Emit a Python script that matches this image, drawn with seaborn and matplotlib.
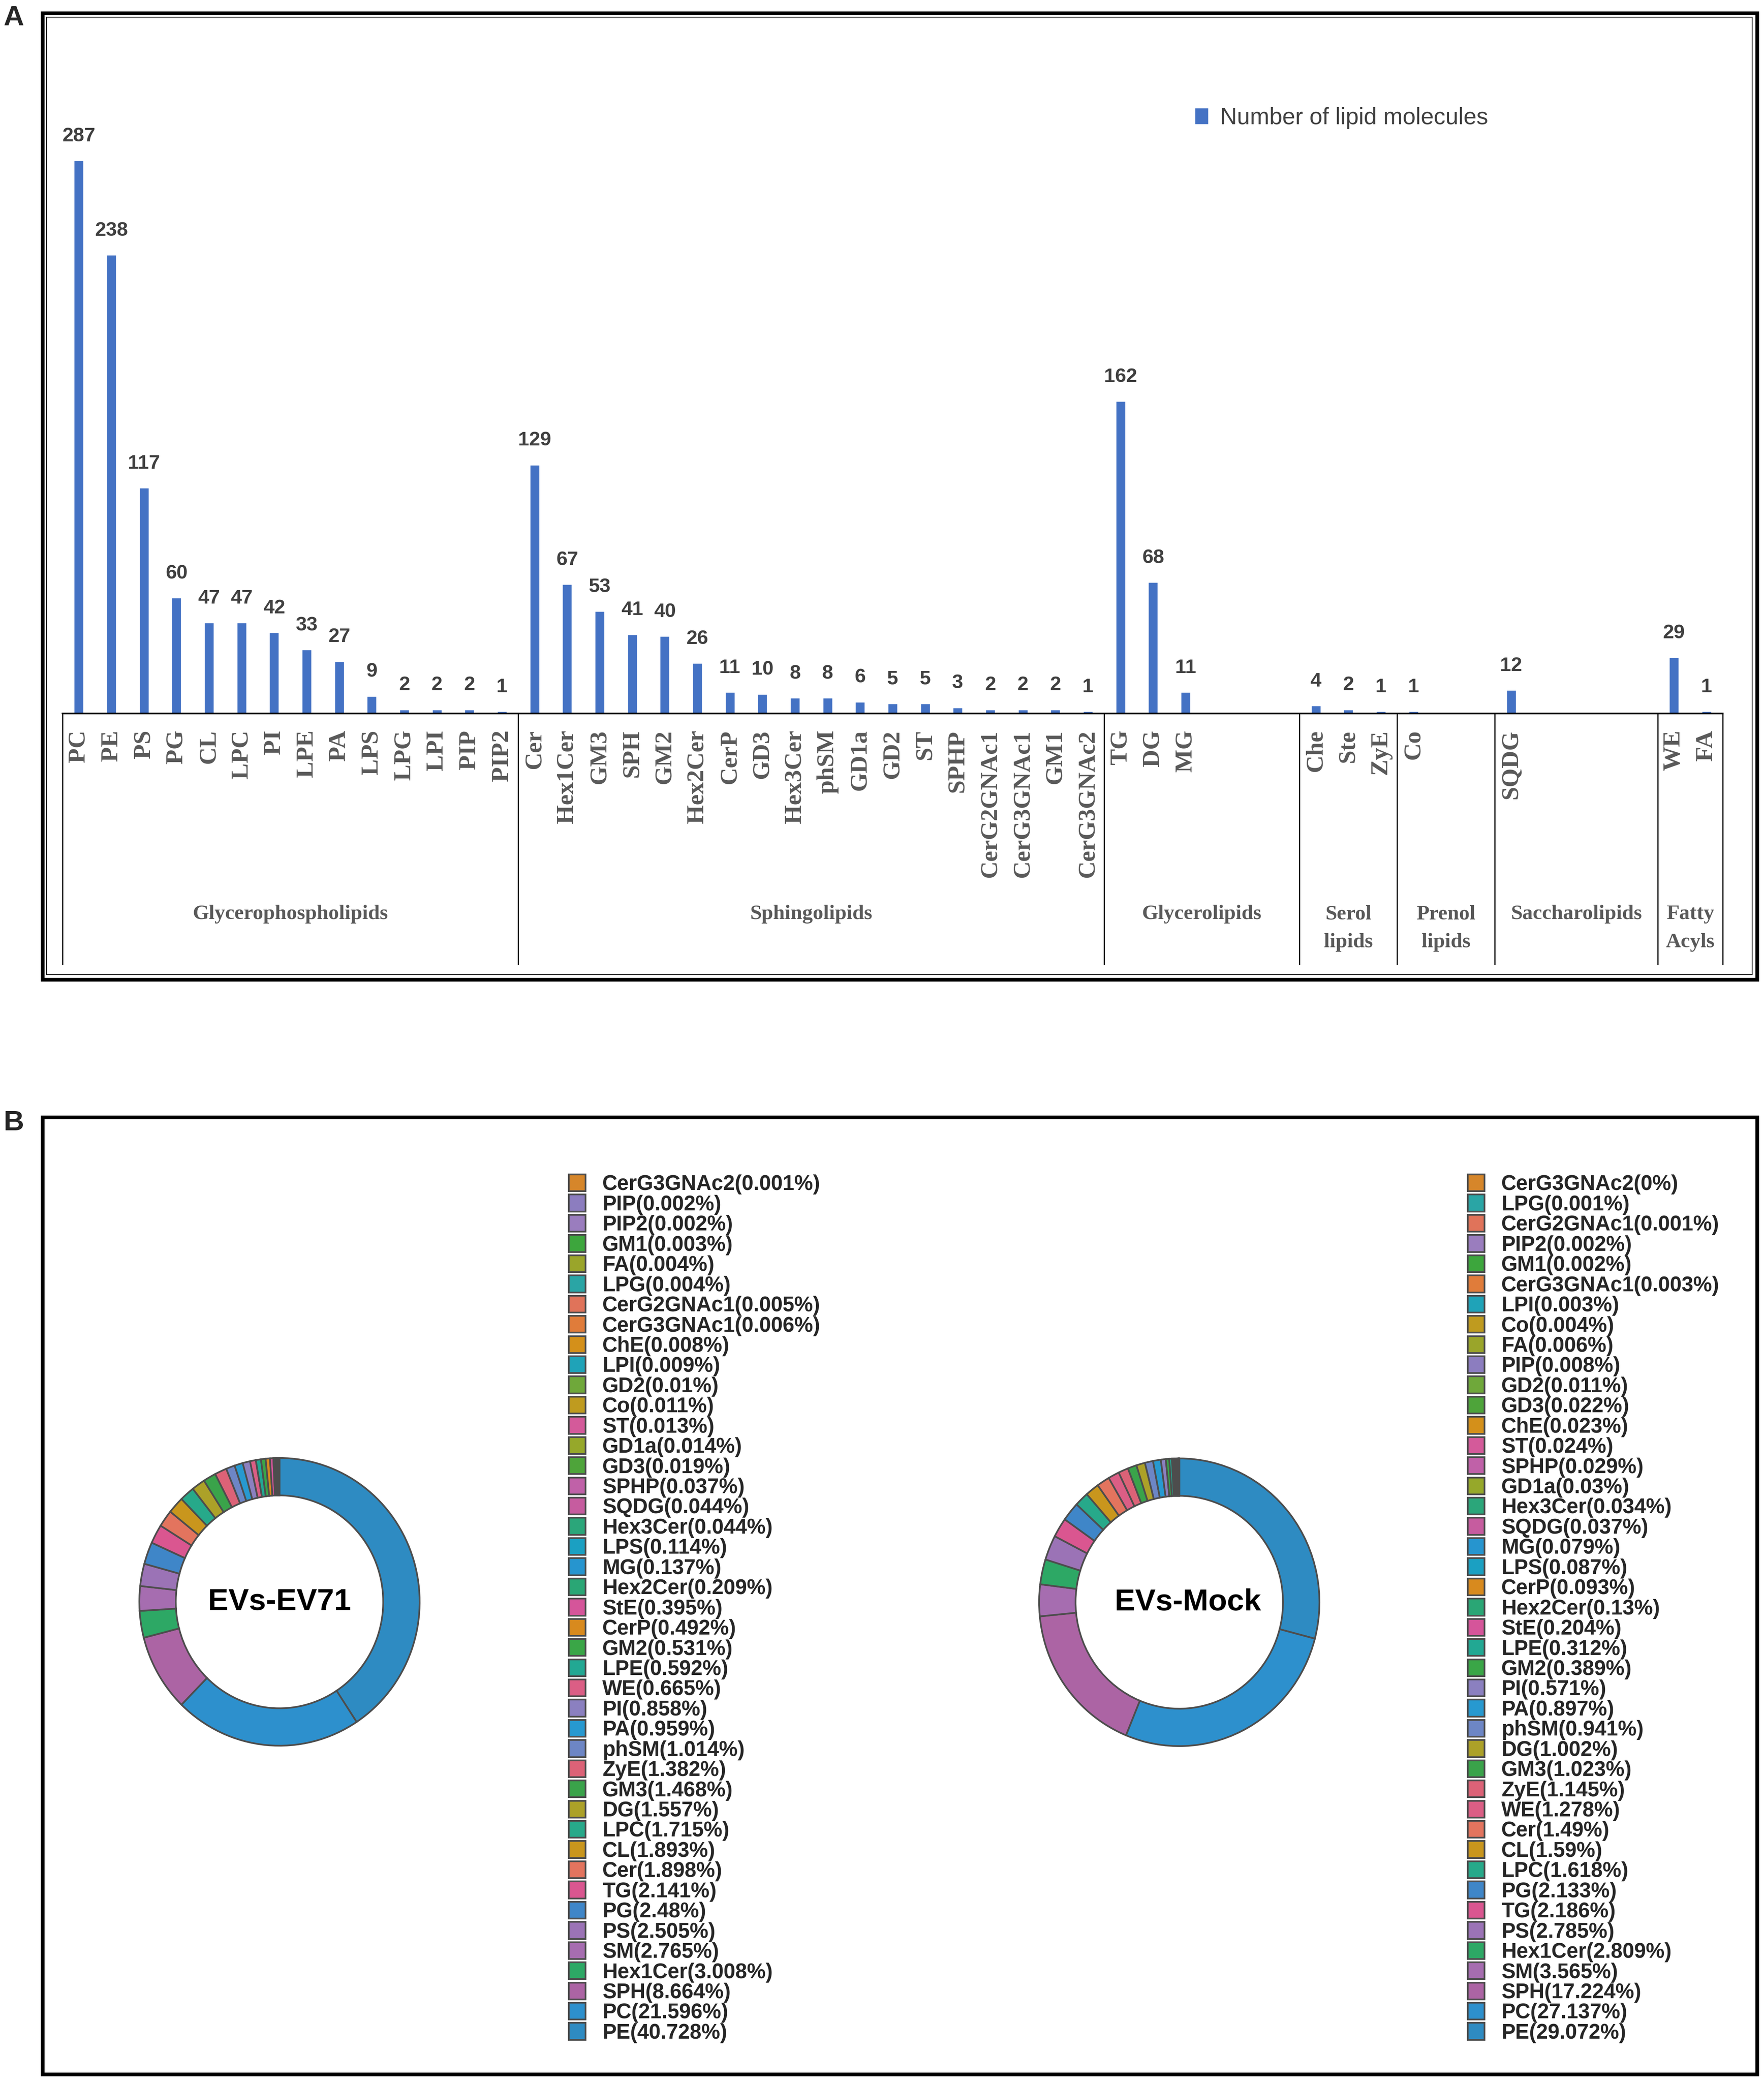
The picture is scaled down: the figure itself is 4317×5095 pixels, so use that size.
import matplotlib
matplotlib.use("Agg")
import matplotlib.pyplot as plt
from matplotlib.patches import Rectangle
import numpy as np
import pandas as pd
import seaborn as sns

# ---- panel A data: number of lipid molecules per class ----
groups = ["Glycerophospholipids", "Sphingolipids", "Glycerolipids",
          "Serol\nlipids", "Prenol\nlipids", "Saccharolipids", "Fatty\nAcyls"]
group_lipids = [
    ["PC", "PE", "PS", "PG", "CL", "LPC", "PI", "LPE", "PA", "LPS", "LPG", "LPI", "PIP", "PIP2"],
    ["Cer", "Hex1Cer", "GM3", "SPH", "GM2", "Hex2Cer", "CerP", "GD3", "Hex3Cer", "phSM",
     "GD1a", "GD2", "ST", "SPHP", "CerG2GNAc1", "CerG3GNAc1", "GM1", "CerG3GNAc2"],
    ["TG", "DG", "MG"],
    ["Che", "Ste", "ZyE"],
    ["Co"],
    ["SQDG"],
    ["WE", "FA"],
]
group_counts = [
    [287, 238, 117, 60, 47, 47, 42, 33, 27, 9, 2, 2, 2, 1],
    [129, 67, 53, 41, 40, 26, 11, 10, 8, 8, 6, 5, 5, 3, 2, 2, 2, 1],
    [162, 68, 11],
    [4, 2, 1],
    [1],
    [12],
    [29, 1],
]
group_slots = [14, 18, 6, 3, 3, 5, 2]   # category slots per group (incl. empty ones)

# ---- panel B data: percentage of each lipid class ----
ev71_names = ["CerG3GNAc2", "PIP", "PIP2", "GM1", "FA", "LPG", "CerG2GNAc1", "CerG3GNAc1",
              "ChE", "LPI", "GD2", "Co", "ST", "GD1a", "GD3", "SPHP", "SQDG", "Hex3Cer",
              "LPS", "MG", "Hex2Cer", "StE", "CerP", "GM2", "LPE", "WE", "PI", "PA", "phSM",
              "ZyE", "GM3", "DG", "LPC", "CL", "Cer", "TG", "PG", "PS", "SM", "Hex1Cer",
              "SPH", "PC", "PE"]
ev71_pct = [0.001, 0.002, 0.002, 0.003, 0.004, 0.004, 0.005, 0.006, 0.008, 0.009, 0.01,
            0.011, 0.013, 0.014, 0.019, 0.037, 0.044, 0.044, 0.114, 0.137, 0.209, 0.395,
            0.492, 0.531, 0.592, 0.665, 0.858, 0.959, 1.014, 1.382, 1.468, 1.557, 1.715,
            1.893, 1.898, 2.141, 2.48, 2.505, 2.765, 3.008, 8.664, 21.596, 40.728]

mock_names = ["CerG3GNAc2", "LPG", "CerG2GNAc1", "PIP2", "GM1", "CerG3GNAc1", "LPI", "Co",
              "FA", "PIP", "GD2", "GD3", "ChE", "ST", "SPHP", "GD1a", "Hex3Cer", "SQDG",
              "MG", "LPS", "CerP", "Hex2Cer", "StE", "LPE", "GM2", "PI", "PA", "phSM", "DG",
              "GM3", "ZyE", "WE", "Cer", "CL", "LPC", "PG", "TG", "PS", "Hex1Cer", "SM",
              "SPH", "PC", "PE"]
mock_pct = [0, 0.001, 0.001, 0.002, 0.002, 0.003, 0.003, 0.004, 0.006, 0.008, 0.011, 0.022,
            0.023, 0.024, 0.029, 0.03, 0.034, 0.037, 0.079, 0.087, 0.093, 0.13, 0.204, 0.312,
            0.389, 0.571, 0.897, 0.941, 1.002, 1.023, 1.145, 1.278, 1.49, 1.59, 1.618, 2.133,
            2.186, 2.785, 2.809, 3.565, 17.224, 27.137, 29.072]

lipid_colors = {
    "CerG3GNAc2": "#D6862A", "PIP": "#8C7DBF", "PIP2": "#9A7DBE", "GM1": "#3DA63D",
    "FA": "#9AA52A", "LPG": "#2AA5A5", "CerG2GNAc1": "#E0735A", "CerG3GNAc1": "#E07C3A",
    "ChE": "#D4901A", "LPI": "#1FA3B8", "GD2": "#6FA83A", "Co": "#BF9B1F", "ST": "#D45A9A",
    "GD1a": "#96A82A", "GD3": "#4EA43A", "SPHP": "#C061A8", "SQDG": "#C65C9F",
    "Hex3Cer": "#2BA67A", "LPS": "#1BA0C2", "MG": "#2695CF", "Hex2Cer": "#2AA675",
    "StE": "#D5559A", "CerP": "#D88A1E", "GM2": "#3AA647", "LPE": "#22A893", "WE": "#DB5E85",
    "PI": "#8B80C0", "PA": "#2799D0", "phSM": "#6D86C5", "ZyE": "#DC6277", "GM3": "#3AA34A",
    "DG": "#ACA128", "LPC": "#27A98A", "CL": "#C9961D", "Cer": "#E3745E", "TG": "#DA5690",
    "PG": "#3F86C8", "PS": "#9B73B6", "SM": "#A66DB0", "Hex1Cer": "#2DA865", "SPH": "#AC64A4",
    "PC": "#2D90CD", "PE": "#2E8BC2",
}

# ---------------------------------------------------------------
sns.set_style("white")
narrow = ["Liberation Sans Narrow", "Liberation Sans", "DejaVu Sans"]
serif = ["Liberation Serif", "DejaVu Serif"]
sansb = ["Liberation Sans", "DejaVu Sans"]
plt.rcParams["font.family"] = sansb

W, H = 4317, 5095
fig = plt.figure(figsize=(W / 100, H / 100), dpi=100)


def frac(x0, y0, x1, y1):
    # pixel box (top-left origin) -> figure fraction rect
    return [x0 / W, 1 - y1 / H, (x1 - x0) / W, (y1 - y0) / H]


# ---- build the slot table for the bar chart ----
rows = []
slots = []
bounds = [-0.5]
centers = []
blank = 0
for g, names, counts, n in zip(groups, group_lipids, group_counts, group_slots):
    start = len(slots)
    for nm, c in zip(names, counts):
        slots.append(nm)
        rows.append({"lipid": nm, "count": c, "group": g})
    for _ in range(n - len(names)):
        blank += 1
        slots.append(" " * blank)
    bounds.append(len(slots) - 0.5)
    centers.append((start + len(slots) - 1) / 2)
df = pd.DataFrame(rows)

top_px, base_px = 150, 1746
ax = fig.add_axes(frac(153, top_px, 4216, base_px))
sns.barplot(data=df, x="lipid", y="count", order=slots, color="#4472C4", saturation=1,
            width=0.29, errorbar=None, label="Number of lipid molecules", ax=ax)
ax.set_ylim(0, (base_px - top_px) / 4.714)
ax.set_xlim(-0.5, len(slots) - 0.5)
ax.set_xlabel("")
ax.set_ylabel("")
ax.set_yticks([])
for s in ["left", "top", "right"]:
    ax.spines[s].set_visible(False)
ax.spines["bottom"].set_color("black")
ax.spines["bottom"].set_linewidth(3)

ax.set_xticklabels([s.strip() for s in slots], rotation=90, family=serif,
                   fontweight="bold", fontsize=43, color="#595959")
ax.set_xticks(range(len(slots)))
ax.tick_params(axis="x", length=0, pad=29)

ax.bar_label(ax.containers[0], padding=27, fontsize=35, fontweight="bold",
             color="#404040", family=narrow)

axh = base_px - top_px
ax.vlines(bounds, 0, -(2361 - base_px) / axh, transform=ax.get_xaxis_transform(),
          colors="black", lw=2, clip_on=False)
for g, c in zip(groups, centers):
    ax.text(c, -(2214 - base_px) / axh, g, transform=ax.get_xaxis_transform(),
            ha="center", va="top", family=serif, fontweight="bold", fontsize=37,
            color="#595959", linespacing=1.65)

leg = ax.legend(loc="center left", bbox_to_anchor=(2924 / W, 1 - 289 / H),
                bbox_transform=fig.transFigure, frameon=False, fontsize=41,
                handlelength=0.58, handleheight=0.72, handletextpad=0.5,
                borderpad=0, borderaxespad=0)
for t in leg.get_texts():
    t.set_family(narrow)
    t.set_color("#404040")

# ---- panel B: donuts ----
def donut(cx, cy, names, pct, title, tdx, leg_x, leg_y):
    rx, ry = 343, 352
    a = fig.add_axes(frac(cx - 1.1 * rx, cy - 1.1 * ry, cx + 1.1 * rx, cy + 1.1 * ry))
    vals = pct[::-1]
    cols = [lipid_colors[n] for n in names[::-1]]
    wedges, _ = a.pie(vals, colors=cols, startangle=90, counterclock=False,
                      wedgeprops=dict(width=0.26, edgecolor="#4d4d4d", linewidth=3))
    a.set_aspect("auto")
    a.set_xlim(-1.1, 1.1)
    a.set_ylim(-1.1, 1.1)
    a.axis("off")
    a.text(tdx, 0, title, ha="center", va="center", fontsize=54, fontweight="bold",
           family=sansb, color="black")
    handles = wedges[::-1]
    labels = [f"{n}({v:g}%)" for n, v in zip(names, pct)]
    lg = a.legend(handles, labels, loc="upper left",
                  bbox_to_anchor=(leg_x / W, 1 - leg_y / H), bbox_transform=fig.transFigure,
                  frameon=False, handlelength=0.8, handleheight=0.86,
                  handletextpad=0.8, labelspacing=0.0, borderpad=0, borderaxespad=0,
                  prop={"family": sansb, "weight": "bold", "size": 37})
    return lg


donut(684, 3920, ev71_names, ev71_pct, "EVs-EV71", 0.0, 1392, 2874)
donut(2886, 3921, mock_names, mock_pct, "EVs-Mock", 0.06, 3592, 2874)

# ---- panel frames and letters ----
fig.add_artist(Rectangle((104 / W, 1 - 2397 / H), 4196 / W, 2365 / H,
                         transform=fig.transFigure, fill=False, ec="black", lw=6.5))
fig.add_artist(Rectangle((114 / W, 1 - 2385 / H), 4174 / W, 2343 / H,
                         transform=fig.transFigure, fill=False, ec="black", lw=1.5))
fig.add_artist(Rectangle((104 / W, 1 - 5076 / H), 4196 / W, 2342 / H,
                         transform=fig.transFigure, fill=False, ec="black", lw=6.5))
fig.text(8 / W, 1 - 12 / H, "A", ha="left", va="top", fontsize=50, fontweight="bold")
fig.text(8 / W, 1 - 2716 / H, "B", ha="left", va="top", fontsize=50, fontweight="bold")

fig.savefig("out.png", dpi=100, facecolor="white")
